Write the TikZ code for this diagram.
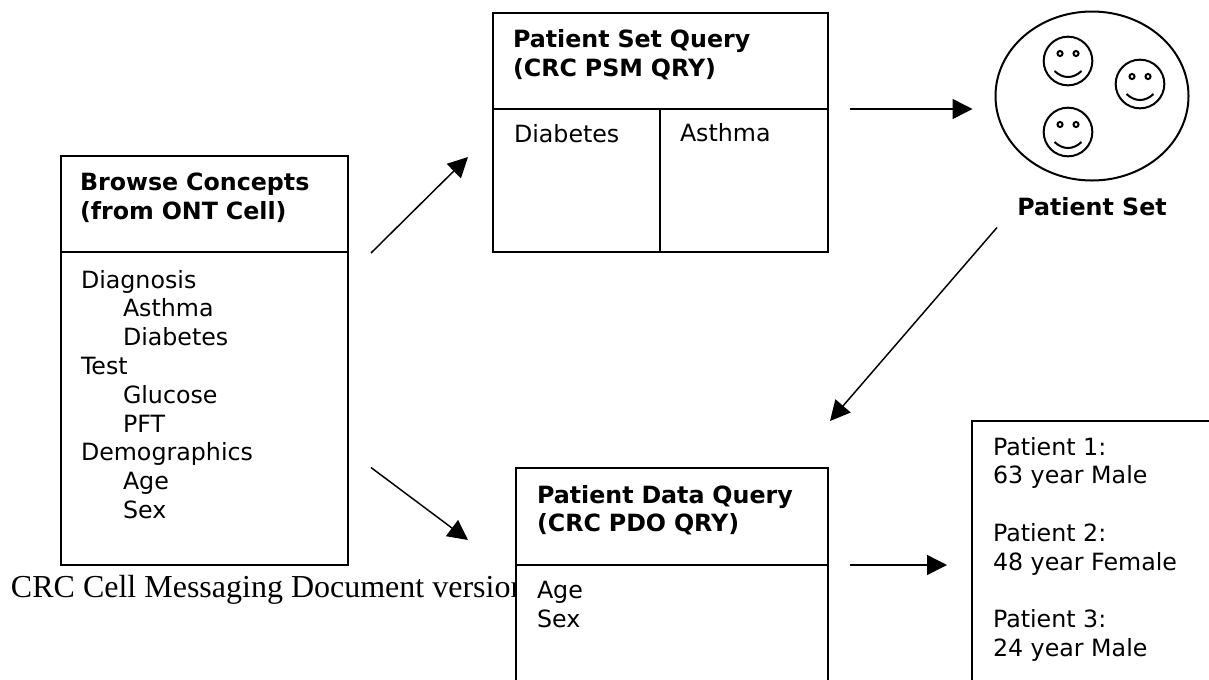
\documentclass[tikz,border=0pt]{standalone}
\usepackage{fontspec}
\setmainfont{DejaVu Sans}
\newfontfamily\crcfont{Liberation Serif}
\usetikzlibrary{arrows.meta,positioning,shapes.geometric}
\tikzstyle{head}=[draw, fill=white, outer sep=0pt, align=left, text depth=33.5pt, font=\bfseries\fontsize{17.8}{21.6}\selectfont]
\tikzstyle{part}=[draw, fill=white, outer sep=0pt]
\tikzstyle{txt}=[anchor=north west, inner sep=0pt, align=left, font=\fontsize{17.8}{21.6}\selectfont]
\tikzstyle{face}=[draw, circle, outer sep=0pt, minimum size=36.5pt, inner sep=0pt]
\newcommand{\ind}{\hspace*{31.5pt}}
\newcommand{\smiley}[1]{
  \node [face] (face#1) at (#1) {};
  \draw ([shift={(-8,-7.5)}]#1) circle (1.9pt) ([shift={(8,-7.5)}]#1) circle (1.9pt);
  \draw ([shift={(-13.5,10)}]#1) .. controls ([shift={(-5,18)}]#1) and ([shift={(5,18)}]#1) .. ([shift={(13.5,10)}]#1);
}

\begin{document}
\begin{tikzpicture}[x=.75pt,y=-.75pt,>={Triangle[length=15pt,width=15pt]},line width=1.5pt]
  \clip (0,0) rectangle (1209,679);
  \fill [white] (0,0) rectangle (1209,679);
  \node [anchor=base west, inner sep=0pt, font=\crcfont\fontsize{24}{28}\selectfont] (crc) at (10,597) {CRC Cell Messaging Document version};

  \node [head, anchor=north west, text width=186.75pt, inner xsep=14.25pt, minimum height=72pt] (browsehead) at (61,156) {Browse Concepts\\(from ONT Cell)};
  \node [part, below=0pt of browsehead, minimum width=215.25pt, minimum height=234.75pt] (browsebody) {};
  \node [txt] (browsetxt) at (80,269) {Diagnosis\\\ind Asthma\\\ind Diabetes\\Test\\\ind Glucose\\\ind PFT\\Demographics\\\ind Age\\\ind Sex};

  \node [head, anchor=north west, text width=221.25pt, inner xsep=15pt, minimum height=72pt] (psmhead) at (493,13) {Patient Set Query\\(CRC PSM QRY)};
  \node [part, anchor=north west, minimum width=125.25pt, minimum height=107.25pt] (diabetes) at (psmhead.south west) {};
  \node [part, anchor=north west, minimum width=126pt, minimum height=107.25pt] (asthma) at (diabetes.north east) {};
  \node [txt] (diabetestxt) at (513,123) {Diabetes};
  \node [txt] (asthmatxt) at (679,122) {Asthma};

  \node [head, anchor=north west, text width=202.5pt, inner xsep=15.75pt, minimum height=72.75pt] (pdohead) at (516,468) {Patient Data Query\\(CRC PDO QRY)};
  \node [part, below=0pt of pdohead, minimum width=234pt, minimum height=120pt] (pdobody) {};
  \node [txt] (pdotxt) at (536,580) {Age\\Sex};

  \node [part, anchor=north west, minimum width=195pt, minimum height=210pt] (result) at (972,421) {};
  \node [txt] (resulttxt) at (992,436) {Patient 1:\\63 year Male\\[21.6pt]Patient 2:\\48 year Female\\[21.6pt]Patient 3:\\24 year Male};

  \node [draw, ellipse, outer sep=0pt, minimum width=144.75pt, minimum height=126.75pt, inner sep=0pt] (patients) at (1092,96) {};
  \coordinate (f1) at (1068,61);
  \coordinate (f2) at (1140,84);
  \coordinate (f3) at (1068,132);
  \smiley{f1}
  \smiley{f2}
  \smiley{f3}
  \node [inner sep=0pt, font=\bfseries\fontsize{17.8}{24}\selectfont, below=12pt of patients] (patientset) {Patient Set};

  \coordinate (o1) at ([shift={(23,1)}]browsehead.south east);
  \coordinate (i1) at ([shift={(-25,-95)}]diabetes.south west);
  \coordinate (o2) at ([shift={(23,59)}]browsebody.east);
  \coordinate (i2) at ([shift={(-48,72)}]pdohead.north west);
  \coordinate (o3) at ([shift={(22,0)}]psmhead.south east);
  \coordinate (i3) at ([shift={(-23,13)}]patients.west);
  \coordinate (o4) at ([shift={(-95,47)}]patients.south);
  \coordinate (i4) at ([shift={(2,-47)}]pdohead.north east);
  \coordinate (o5) at ([shift={(22,0)}]pdohead.south east);
  \coordinate (i5) at ([shift={(-25,144)}]result.north west);
  \path[->,line width=1.1pt]
  (o1) edge (i1)
  (o2) edge (i2)
  (o3) edge (i3)
  (o4) edge (i4)
  (o5) edge (i5);
\end{tikzpicture}
\end{document}
